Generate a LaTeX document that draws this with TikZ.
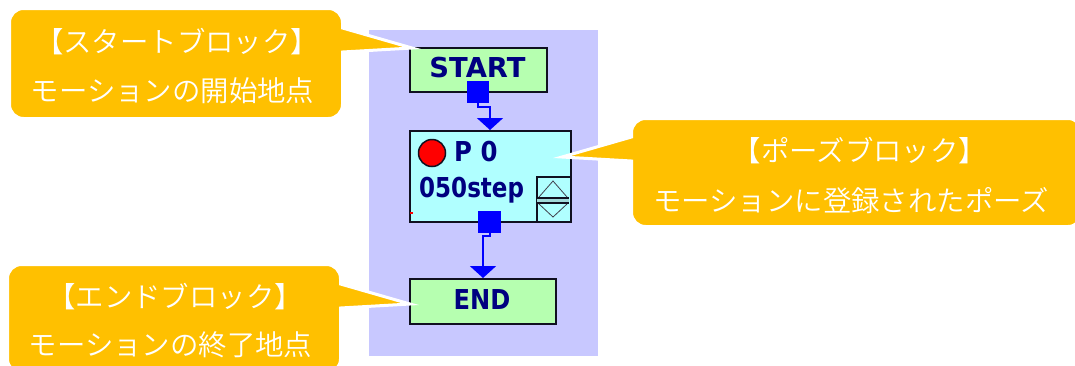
\documentclass[tikz,border=0pt]{standalone}
\usepackage{fontspec}
\usetikzlibrary{arrows.meta}
\newfontfamily\jpfont{Noto Sans CJK JP DemiLight}
\newfontfamily\blockfont{DejaVu Sans Bold}
\definecolor{callout}{HTML}{FFC000}
\definecolor{lav}{HTML}{C8C8FF}
\definecolor{blockgreen}{HTML}{B6FFB0}
\definecolor{blockcyan}{HTML}{B0FFFF}
\definecolor{navy}{HTML}{000080}
\definecolor{edge}{HTML}{101020}
\definecolor{flow}{HTML}{0000FF}
% corner pieces of a callout body (corner point, radius 14)
\newcommand\cornerBR[2]{-- (#1,#2-14) .. controls +(0,7.7) and +(7.7,0) .. (#1-14,#2)}
\newcommand\cornerBL[2]{-- (#1+14,#2) .. controls +(-7.7,0) and +(0,7.7) .. (#1,#2-14)}
\newcommand\cornerTL[2]{-- (#1,#2+14) .. controls +(0,-7.7) and +(-7.7,0) .. (#1+14,#2)}
\newcommand\cornerTR[2]{-- (#1-14,#2) .. controls +(7.7,0) and +(0,-7.7) .. (#1,#2+14)}
\tikzset{
  x=1pt,y=-1pt,
  calloutbox/.style={fill=callout,draw=white,line width=3pt,miter limit=30,line join=miter},
  callouttext/.style={text=white,font=\jpfont\fontsize{28.4}{34}\selectfont,inner sep=0pt},
  blockbox/.style={draw=edge,line width=2.4pt,inner sep=0pt,anchor=north west},
  blocktext/.style={text=navy,font=\blockfont\fontsize{27.4}{30}\selectfont,inner sep=0pt},
  portbox/.style={fill=flow,draw=none,minimum width=22pt,minimum height=22pt,inner sep=0pt},
  flowline/.style={draw=flow,line width=2pt,-{Triangle[length=12pt,width=26pt]}}
}
\begin{document}
\begin{tikzpicture}
\useasboundingbox (0,0) rectangle (1075,365);
\begin{scope}
\clip (0,0) rectangle (1075,365);
\fill[white] (0,0) rectangle (1075,365);
\fill[lav] (369,30) rectangle (598,356);

% blocks
\node[blockbox,fill=blockgreen,minimum width=137pt,minimum height=44pt] (start) at (409,47) {};
\node[blockbox,fill=blockcyan,minimum width=161pt,minimum height=91pt] (pose) at (409,130) {};
\node[blockbox,fill=blockgreen,minimum width=146pt,minimum height=45pt] (end) at (409,278) {};
\node[blocktext] (starttext) at (477.5,68) {START};
\node[blocktext] (endtext) at (482,300) {\scalebox{.88}[1]{END}};
\node[circle,fill=red,draw=edge,line width=1.5pt,minimum size=27pt,inner sep=0pt] (lamp) at (432,153) {};
\node[blocktext,anchor=west] (ptext) at (454,152) {\scalebox{.89}[1]{P 0}};
\node[blocktext,anchor=west] (steptext) at (419,190) {\scalebox{.84}[1]{050step}};

% up/down button
\node[draw=edge,line width=1.5pt,fill=blockcyan,anchor=north west,minimum width=34pt,minimum height=45pt,inner sep=0pt] (updown) at (536,176) {};
\fill[blockcyan!70!gray] (537,198) rectangle (569,203);
\draw[edge,line width=1.5pt] (537,198) -- (569,198) (537,203) -- (569,203);
\draw[edge!80,line width=.8pt] (539,197) -- (553,181) -- (567,197);
\draw[edge!80,line width=.8pt] (539,204) -- (553,217) -- (567,204);
\fill[red] (410,212) rectangle (413,214);

% connectors
\node[portbox] (porta) at (478,92) {};
\node[portbox,minimum width=23pt] (portb) at (489.5,222) {};
\coordinate (benda) at (490,107);
\coordinate (bendb) at (483,236);
\draw[flowline] (porta.south) |- (benda) -- (benda |- pose.north);
\draw[flowline] (portb.south) |- (bendb) -- (bendb |- end.north);

% callouts
\draw[calloutbox] (342.5,52) \cornerBR{342.5}{118.5} \cornerBL{9.5}{118.5} \cornerTL{9.5}{8.5} \cornerTR{342.5}{8.5} -- (342.5,28) -- (412,48) -- cycle;
\node[callouttext] (starttip) at (177,42) {\vphantom{ポ}【スタートブロック】};
\node[callouttext] (startdesc) at (172.5,91) {\vphantom{ポ}モーションの開始地点};

\draw[calloutbox] (631.5,137) \cornerTL{631.5}{118.5} \cornerTR{1082}{118.5} \cornerBR{1082}{226.5} \cornerBL{631.5}{226.5} -- (631.5,161) -- (562,157) -- cycle;
\node[callouttext] (posetip) at (860,151) {\vphantom{ポ}【ポーズブロック】};
\node[callouttext] (posedesc) at (851,201) {\vphantom{ポ}モーションに登録されたポーズ};

\draw[calloutbox] (340.5,308) \cornerBR{340.5}{373} \cornerBL{7.5}{373} \cornerTL{7.5}{264.5} \cornerTR{340.5}{264.5} -- (340.5,284) -- (410,304) -- cycle;
\node[callouttext] (endtip) at (175,297) {\vphantom{ポ}【エンドブロック】};
\node[callouttext] (enddesc) at (170.5,345) {\vphantom{ポ}モーションの終了地点};
\end{scope}
\end{tikzpicture}
\end{document}
